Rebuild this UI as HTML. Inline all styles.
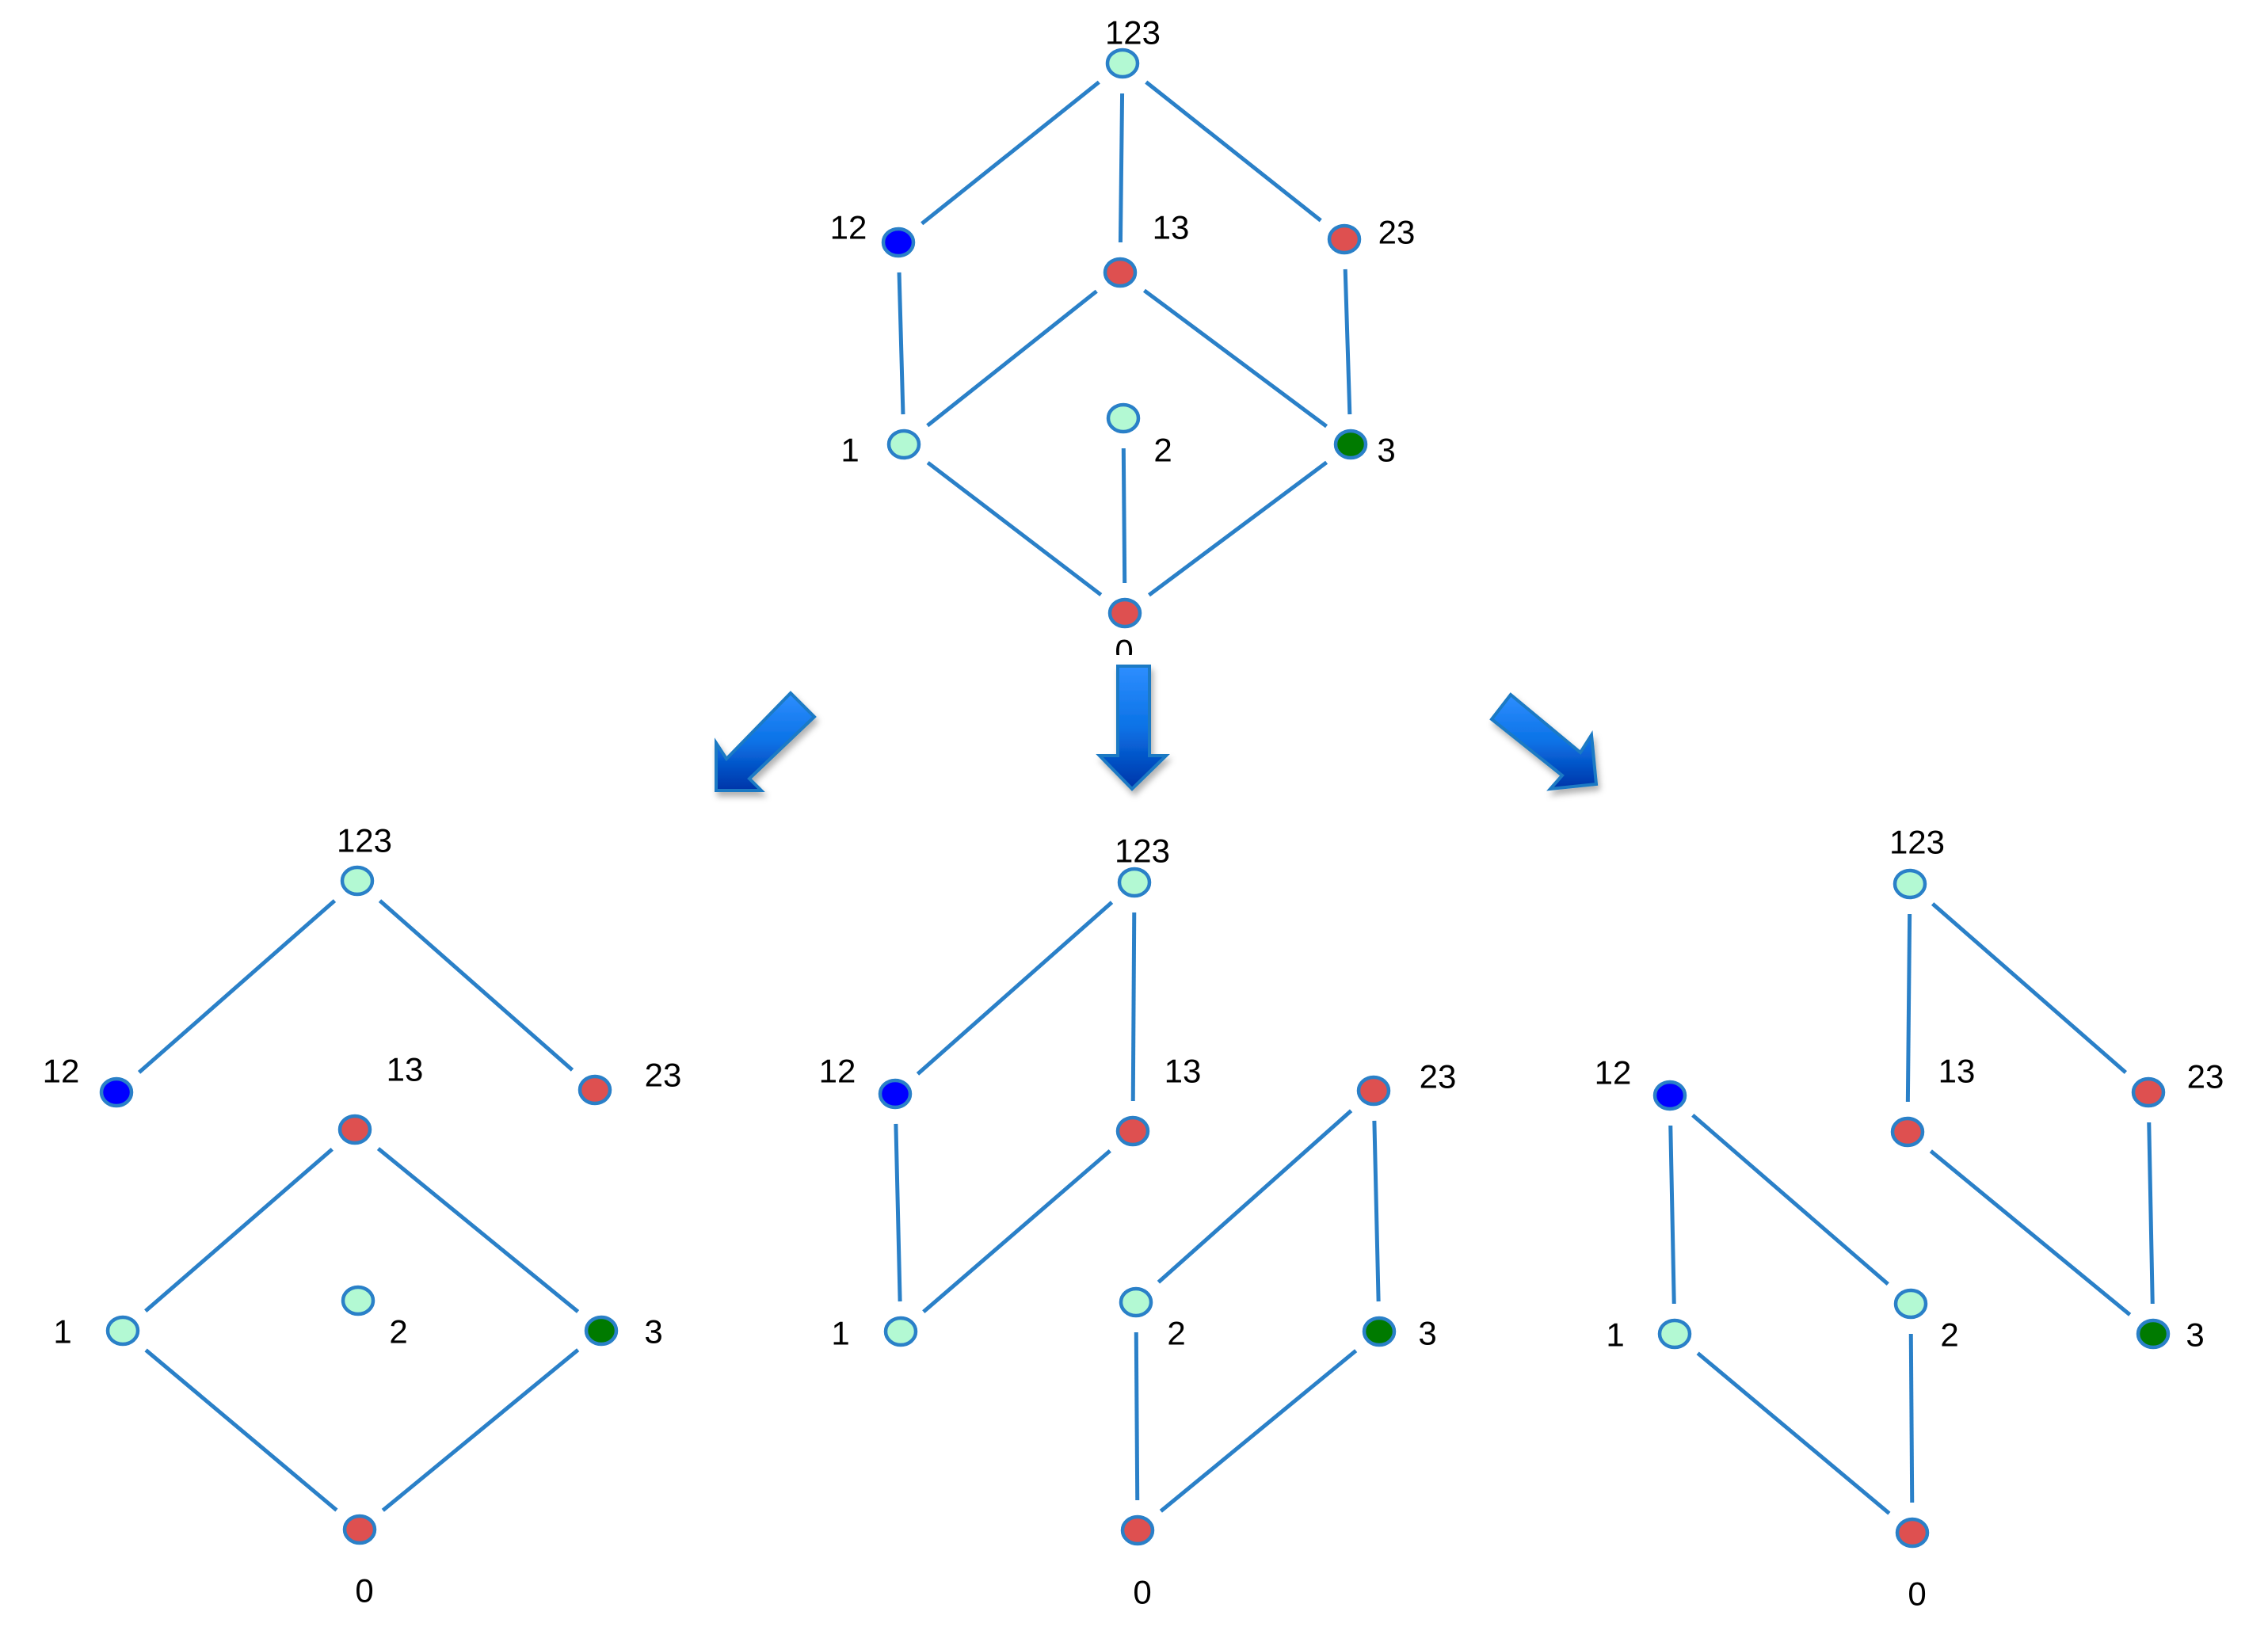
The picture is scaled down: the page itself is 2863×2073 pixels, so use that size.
<!DOCTYPE html>
<html><head><meta charset="utf-8"><style>
html,body{margin:0;padding:0;background:#fff;}
svg{display:block;}
text{font-family:"Liberation Sans",sans-serif;font-size:42px;fill:#000;text-anchor:middle;dominant-baseline:central;}
</style></head><body>
<svg id="s" width="2863" height="2073" viewBox="0 0 2863 2073" xmlns="http://www.w3.org/2000/svg">
<defs>
<linearGradient id="ga" x1="0" y1="0" x2="0" y2="1">
<stop offset="0" stop-color="#2e8eff"/><stop offset="0.5" stop-color="#0a72e6"/><stop offset="1" stop-color="#0034a8"/>
</linearGradient>
<filter id="sh" x="-20%" y="-20%" width="150%" height="150%"><feDropShadow dx="3" dy="6" stdDeviation="4" flood-color="#000" flood-opacity="0.3"/></filter>
</defs>
<g id="lines" stroke="#2a80c8" stroke-width="5" stroke-linecap="butt"></g>
<g id="nodes"></g>
<!-- top 0 label (clipped) -->
<text x="1419" y="822">0</text>
<rect x="1395" y="827" width="50" height="14" fill="#fff"/>
<!-- arrows -->
<g fill="url(#ga)" stroke="#1a7ac4" stroke-width="4" filter="url(#sh)">
<polygon points="904,938 917,958 998,875 1028,905 946,983 961,998 904,998"/>
<polygon points="1411,841 1451,841 1451,954 1472,954 1429,996 1388,954 1411,954"/>
<polygon points="1907,877 1883,908 1972,979 1957,996 2015,990 2009,928 1995,950"/>
</g>
<!-- labels top -->
<text x="1430" y="41">123</text>
<text x="1071" y="287">12</text>
<text x="1478" y="287">13</text>
<text x="1763" y="293">23</text>
<text x="1073" y="568">1</text>
<text x="1468" y="568">2</text>
<text x="1750" y="568">3</text>
<!-- labels left -->
<text x="460" y="1061">123</text>
<text x="77" y="1352">12</text>
<text x="511" y="1350">13</text>
<text x="837" y="1357">23</text>
<text x="79" y="1681">1</text>
<text x="503" y="1681">2</text>
<text x="825" y="1681">3</text>
<text x="460" y="2008">0</text>
<!-- labels middle -->
<text x="1442" y="1074">123</text>
<text x="1057" y="1352">12</text>
<text x="1493" y="1352">13</text>
<text x="1815" y="1359">23</text>
<text x="1061" y="1683">1</text>
<text x="1485" y="1683">2</text>
<text x="1802" y="1683">3</text>
<text x="1442" y="2010">0</text>
<!-- labels right -->
<text x="2420" y="1063">123</text>
<text x="2036" y="1354">12</text>
<text x="2470" y="1352">13</text>
<text x="2784" y="1359">23</text>
<text x="2039" y="1685">1</text>
<text x="2461" y="1685">2</text>
<text x="2771" y="1685">3</text>
<text x="2420" y="2012">0</text>
</svg>
<script>
var C={g:"#b3f9d3",b:"#0000ff",r:"#de5050",d:"#007a00"};
var graphs=[
 {n:{"123":[1417,80,"g"],"12":[1134,306,"b"],"13":[1414,344,"r"],"23":[1697,302,"r"],"1":[1141,561,"g"],"2":[1418,528,"g"],"3":[1705,561,"d"],"0":[1420,774,"r"]},
  e:[["123","12"],["123","13"],["123","23"],["12","1"],["13","1"],["13","3"],["23","3"],["1","0"],["2","0"],["3","0"]]},
 {n:{"123":[451,1112,"g"],"12":[147,1379,"b"],"13":[448,1426,"r"],"23":[751,1376,"r"],"1":[155,1680,"g"],"2":[452,1642,"g"],"3":[759,1680,"d"],"0":[454,1931,"r"]},
  e:[["123","12"],["123","23"],["13","1"],["13","3"],["1","0"],["3","0"]]},
 {n:{"123":[1432,1114,"g"],"12":[1130,1381,"b"],"13":[1430,1428,"r"],"23":[1734,1377,"r"],"1":[1137,1681,"g"],"2":[1434,1644,"g"],"3":[1741,1681,"d"],"0":[1436,1932,"r"]},
  e:[["123","12"],["123","13"],["12","1"],["13","1"],["23","2"],["23","3"],["2","0"],["3","0"]]},
 {n:{"123":[2411,1116,"g"],"12":[2108,1383,"b"],"13":[2408,1429,"r"],"23":[2712,1379,"r"],"1":[2114,1684,"g"],"2":[2412,1646,"g"],"3":[2718,1684,"d"],"0":[2414,1935,"r"]},
  e:[["123","13"],["123","23"],["12","1"],["12","2"],["13","3"],["23","3"],["1","0"],["2","0"]]}
];
var NS="http://www.w3.org/2000/svg",L=document.getElementById("lines"),N=document.getElementById("nodes");
graphs.forEach(function(g){
 g.e.forEach(function(e){
  var a=g.n[e[0]],b=g.n[e[1]],dx=b[0]-a[0],dy=b[1]-a[1],d=Math.hypot(dx,dy),k=38/d;
  var l=document.createElementNS(NS,"line");
  l.setAttribute("x1",a[0]+dx*k);l.setAttribute("y1",a[1]+dy*k);
  l.setAttribute("x2",b[0]-dx*k);l.setAttribute("y2",b[1]-dy*k);
  L.appendChild(l);
 });
 for(var k in g.n){var p=g.n[k];
  var el=document.createElementNS(NS,"ellipse");
  el.setAttribute("cx",p[0]);el.setAttribute("cy",p[1]);el.setAttribute("rx",19);el.setAttribute("ry",17);
  el.setAttribute("fill",C[p[2]]);el.setAttribute("stroke","#2a80c8");el.setAttribute("stroke-width",4.5);
  N.appendChild(el);}
});
</script>
</body></html>
